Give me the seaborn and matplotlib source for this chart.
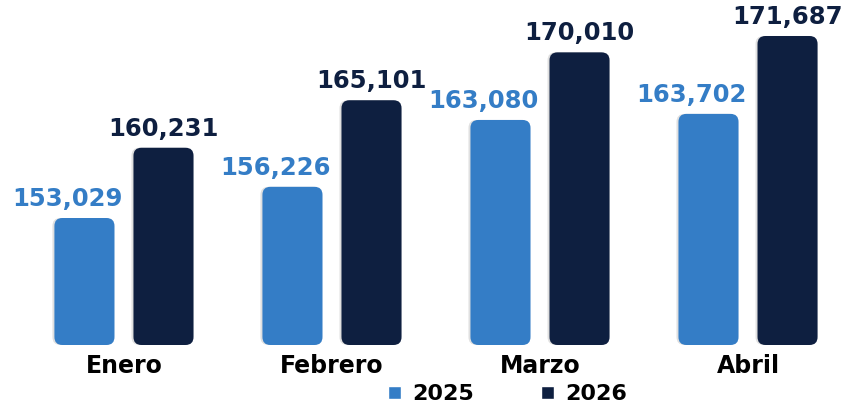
import matplotlib.pyplot as plt
import pandas as pd
import seaborn as sns
from matplotlib.patches import FancyBboxPatch, Patch

# data
meses = ['Enero', 'Febrero', 'Marzo', 'Abril']
valores_2025 = [153029, 156226, 163080, 163702]
valores_2026 = [160231, 165101, 170010, 171687]
anios = ['2025', '2026']

df = pd.DataFrame({
    'mes': meses * 2,
    'valor': valores_2025 + valores_2026,
    'anio': ['2025'] * 4 + ['2026'] * 4,
})

colores = {'2025': '#347DC6', '2026': '#0E1F40'}

sns.set_style('white')
plt.rcParams['font.family'] = ['DejaVu Sans']

fig = plt.figure(figsize=(8.46, 4.04), dpi=100)
ax = fig.add_axes([0, 0.151, 1, 0.849])

sns.barplot(df, x='mes', y='valor', hue='anio', palette=colores, hue_order=anios,
            order=meses, width=0.76, gap=0.24, saturation=1, ax=ax, legend=False)

ax.set_xlim(-0.596, 3.471)
ax.set_ylim(140215, 175377)

# value labels (2025 ones sit a bit to the left of their bar)
for cont, anio in zip(ax.containers, anios):
    textos = ax.bar_label(cont, labels=[f'{v:,.0f}' for v in cont.datavalues], padding=5,
                          color=colores[anio], fontsize=17.5, fontweight='bold')
    if anio == '2025':
        for t in textos:
            t.xyann = (t.xyann[0] - 12, t.xyann[1])

# rounded bars instead of the square ones
fig.canvas.draw()
px_x = (ax.get_xlim()[1] - ax.get_xlim()[0]) / ax.bbox.width
px_y = (ax.get_ylim()[1] - ax.get_ylim()[0]) / ax.bbox.height
r = 8 * px_x
for cont in ax.containers:
    for p in cont.patches:
        x, y = p.get_x(), p.get_y()
        w, h = p.get_width(), p.get_height()
        y0 = ax.get_ylim()[0] - 2 * px_y
        h = y + h - y0
        p.set_visible(False)
        sh = FancyBboxPatch((x - 2 * px_x, y0), w, h,
                            boxstyle=f'round,pad=0,rounding_size={r}',
                            mutation_aspect=px_y / px_x, facecolor='black',
                            alpha=0.12, edgecolor='none', zorder=1.5, clip_on=False)
        ax.add_patch(sh)
        fb = FancyBboxPatch((x, y0), w, h,
                            boxstyle=f'round,pad=0,rounding_size={r}',
                            mutation_aspect=px_y / px_x, facecolor=p.get_facecolor(),
                            edgecolor='none', zorder=2, clip_on=False)
        ax.add_patch(fb)

ax.set_xlabel('')
ax.set_ylabel('')
ax.set_yticks([])
ax.tick_params(axis='x', length=0, pad=8)
for lab in ax.get_xticklabels():
    lab.set_fontsize(17)
    lab.set_fontweight('bold')
    lab.set_color('black')
sns.despine(ax=ax, left=True, bottom=True)

# legend
handles = [Patch(facecolor=colores[a], label=a) for a in anios]
fig.legend(handles=handles, loc='lower center', bbox_to_anchor=(0.6, -0.05), ncol=2,
           frameon=False, handlelength=0.6, handleheight=0.55, columnspacing=3.0,
           handletextpad=0.5, labelcolor='black',
           prop={'weight': 'bold', 'size': 16})

fig.savefig('out.png', dpi=100)
